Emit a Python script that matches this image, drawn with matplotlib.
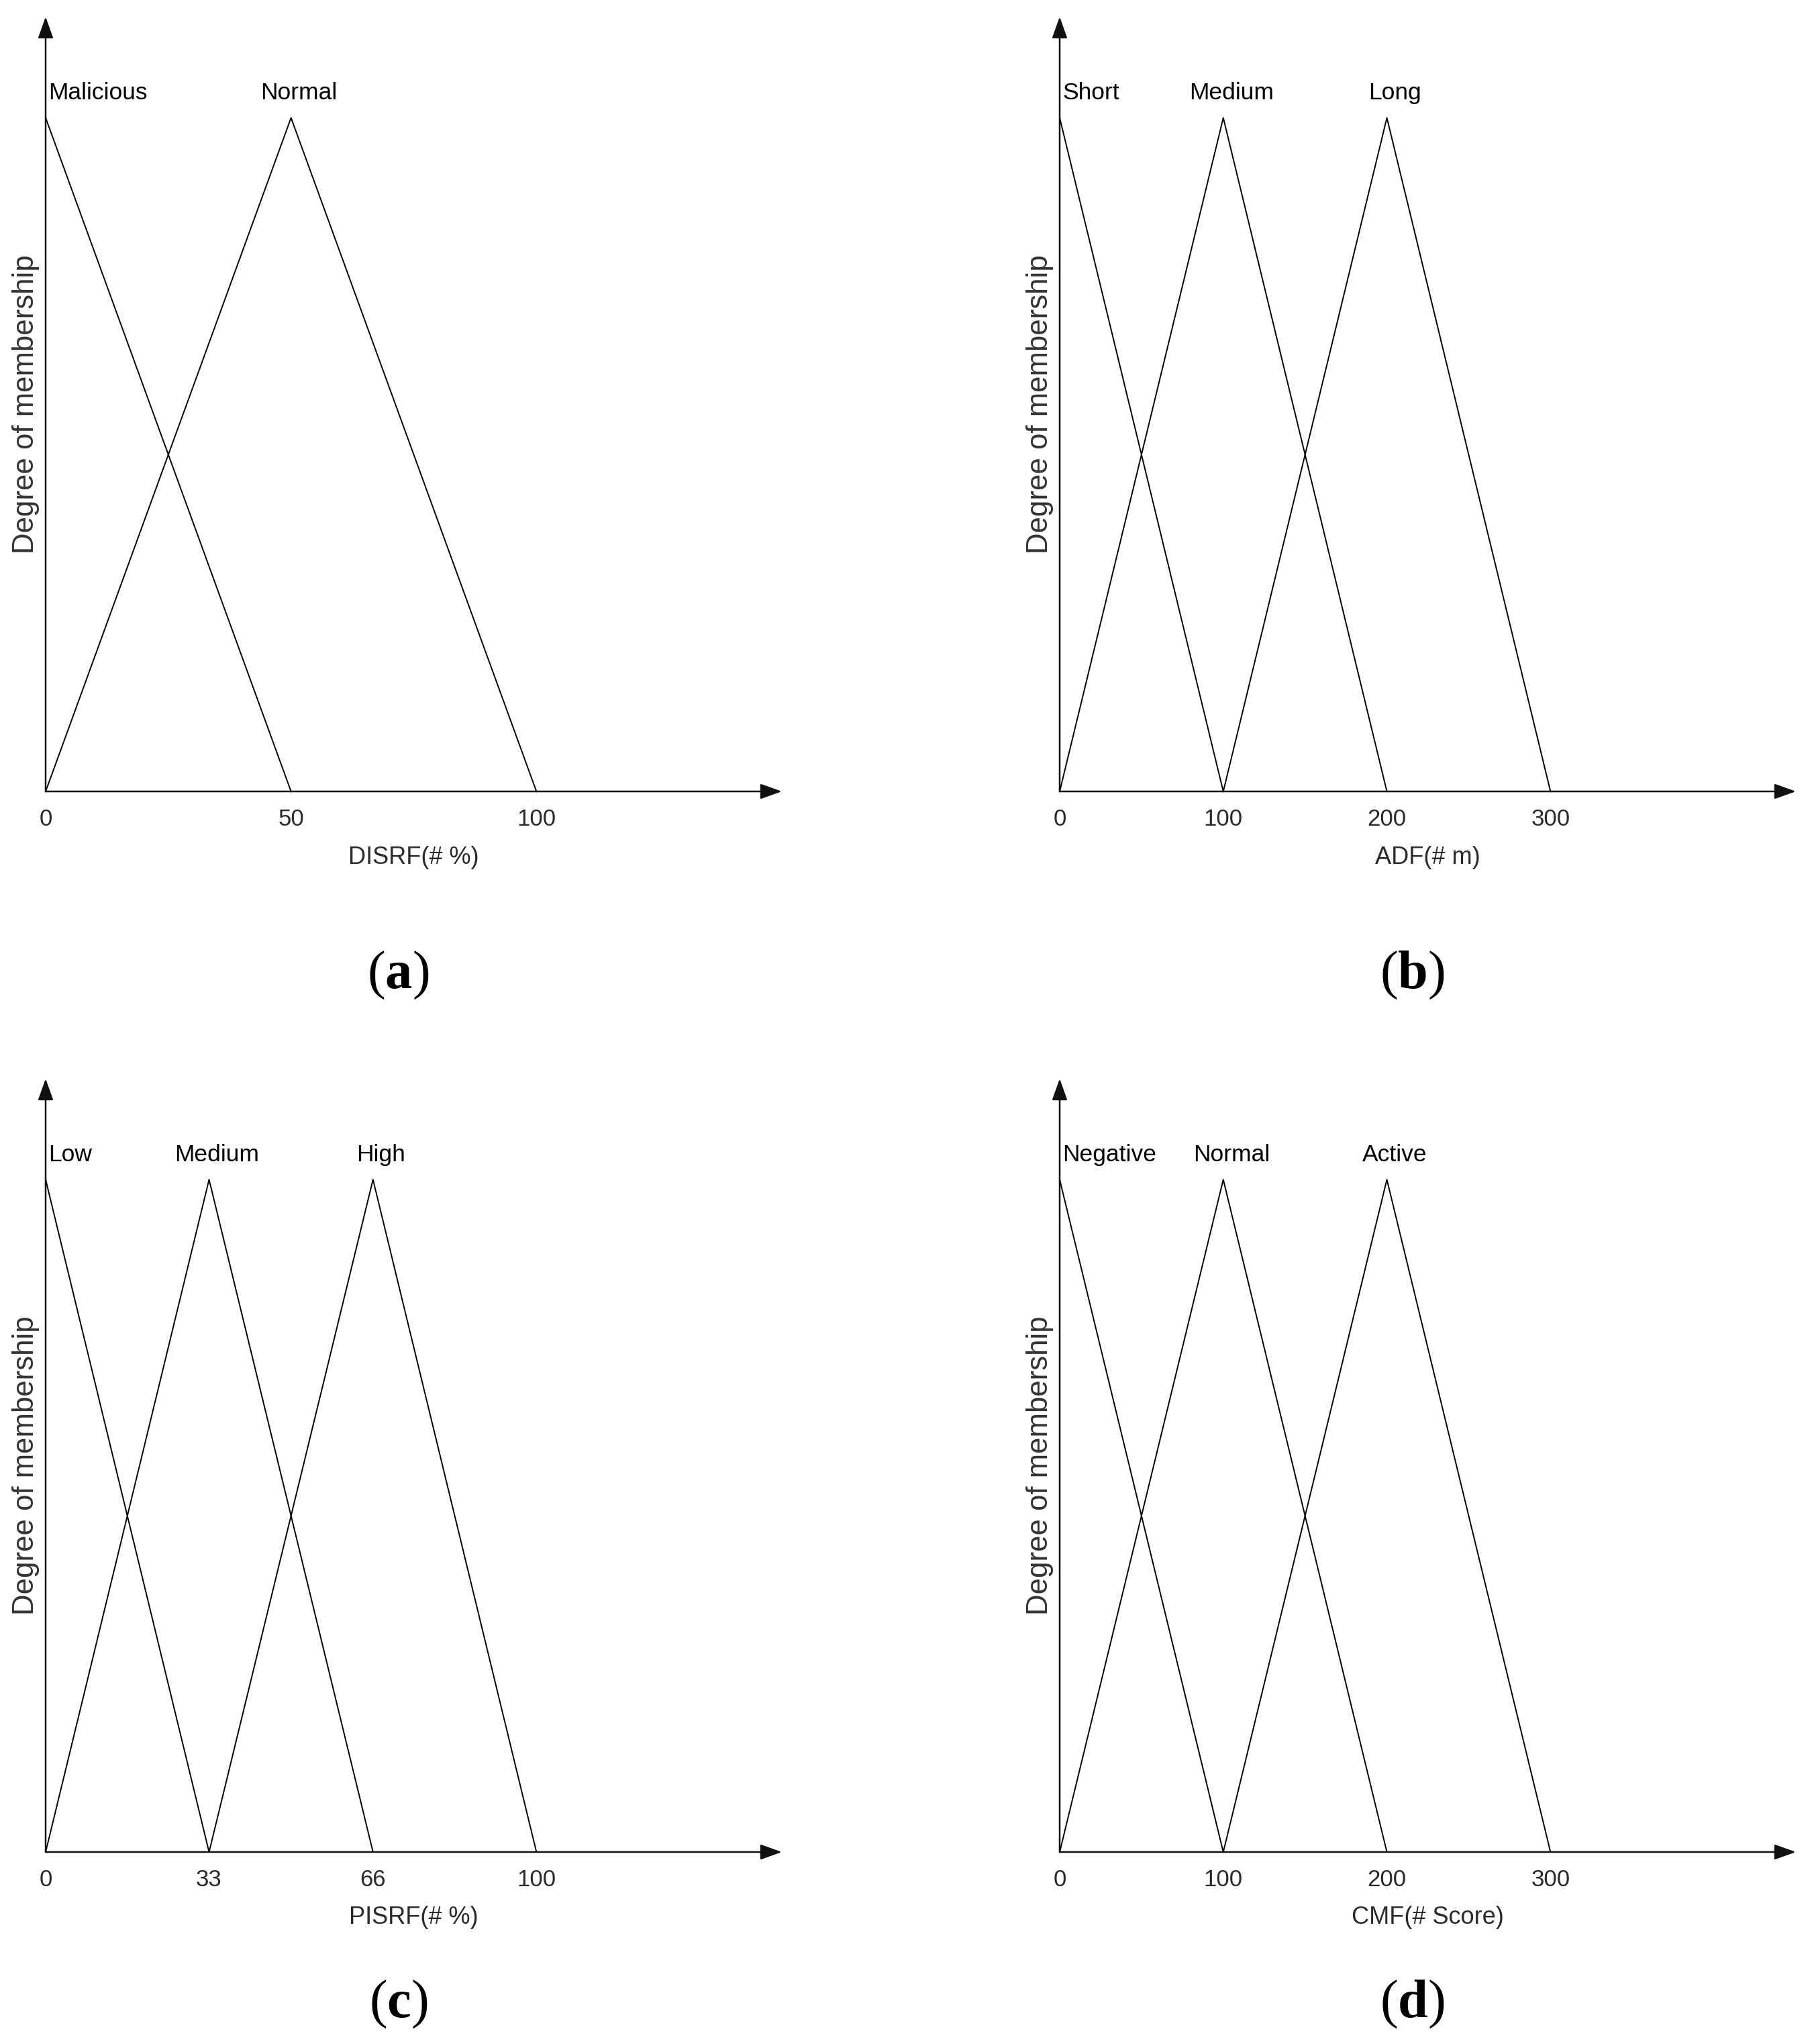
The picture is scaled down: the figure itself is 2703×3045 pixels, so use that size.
"""Fuzzy membership functions for the four input variables, 2x2 panels."""

import matplotlib.pyplot as plt

# ---- data: triangular membership functions (a, b, c) -> feet at a/c, peak at b
disrf_terms = ["Malicious", "Normal"]
disrf_mf = [(0, 0, 50), (0, 50, 100)]
disrf_ticks = [0, 50, 100]
disrf_ticklabels = ["0", "50", "100"]

adf_terms = ["Short", "Medium", "Long"]
adf_mf = [(0, 0, 100), (0, 100, 200), (100, 200, 300)]
adf_ticks = [0, 100, 200, 300]
adf_ticklabels = ["0", "100", "200", "300"]

pisrf_terms = ["Low", "Medium", "High"]
pisrf_mf = [(0, 0, 33.3), (0, 33.3, 66.7), (33.3, 66.7, 100)]
pisrf_ticks = [0, 33.3, 66.7, 100]
pisrf_ticklabels = ["0", "33", "66", "100"]

cmf_terms = ["Negative", "Normal", "Active"]
cmf_mf = [(0, 0, 100), (0, 100, 200), (100, 200, 300)]
cmf_ticks = [0, 100, 200, 300]
cmf_ticklabels = ["0", "100", "200", "300"]

W, H = 2703, 3045
SANS = ["Liberation Sans", "DejaVu Sans"]

plt.rcParams["mathtext.fontset"] = "custom"
plt.rcParams["mathtext.rm"] = "Liberation Serif"
plt.rcParams["mathtext.bf"] = "Liberation Serif:bold"


def px_axes(fig, left, base, right, top):
    # axes from pixel box (y measured from top of image)
    return fig.add_axes([left / W, (H - base) / H, (right - left) / W, (base - top) / H])


def draw_panel(ax, terms, mf, ticks, ticklabels, xmax, xlabel, tag, tag_y):
    ax.set_xlim(0, xmax)
    ax.set_ylim(0, 1.15)
    for s in ax.spines.values():
        s.set_visible(False)

    for i, (term, (a, b, c)) in enumerate(zip(terms, mf)):
        ax.plot([a, b, c], [0, 1, 0], color="black", lw=1.4, clip_on=False, zorder=2)
        if i == 0:
            ax.text(b + xmax * 0.004, 1.037, term, ha="left", va="center",
                    fontsize=25.5, family=SANS, color="black")
        else:
            ax.text(b + xmax * 0.011, 1.037, term, ha="center", va="center",
                    fontsize=25.5, family=SANS, color="black")

    # axis arrows
    arrow = dict(arrowstyle="-|>,head_length=0.7,head_width=0.25", color="#111111",
                 lw=1.8, shrinkA=0, shrinkB=0, mutation_scale=28)
    ax.annotate("", xy=(1, 0), xycoords="axes fraction", xytext=(0, 0),
                textcoords="axes fraction", arrowprops=arrow, zorder=3)
    ax.annotate("", xy=(0, 1), xycoords="axes fraction", xytext=(0, 0),
                textcoords="axes fraction", arrowprops=arrow, zorder=3)

    ax.set_xticks(ticks, ticklabels)
    ax.set_yticks([])
    ax.tick_params(axis="x", length=0, pad=18, labelsize=25, labelcolor="#2a2a2a")
    for lab in ax.get_xticklabels():
        lab.set_family(SANS)

    ax.set_xlabel(xlabel, fontsize=26, family=SANS, color="#2a2a2a")
    ax.xaxis.set_label_coords(0.5, -0.085)
    ax.xaxis.label.set_va("center")

    ax.set_ylabel("Degree of membership", fontsize=31.5, family=SANS, color="#333333")
    ax.yaxis.set_label_coords(-0.027, 0.5)
    ax.yaxis.label.set_va("center")

    ax.text(0.479, tag_y, "($\\mathbf{%s}$)" % tag, transform=ax.transAxes,
            ha="center", va="center", fontsize=58, family="Liberation Serif")


fig = plt.figure(figsize=(W / 100, H / 100), dpi=100)

ax_a = px_axes(fig, 68, 1179, 1165, 25)
ax_b = px_axes(fig, 1579, 1179, 2676, 25)
ax_c = px_axes(fig, 68, 2759, 1165, 1607)
ax_d = px_axes(fig, 1579, 2759, 2676, 1607)

draw_panel(ax_a, disrf_terms, disrf_mf, disrf_ticks, disrf_ticklabels, 150, "DISRF(# %)", "a", -0.237)
draw_panel(ax_b, adf_terms, adf_mf, adf_ticks, adf_ticklabels, 450, "ADF(# m)", "b", -0.237)
draw_panel(ax_c, pisrf_terms, pisrf_mf, pisrf_ticks, pisrf_ticklabels, 150, "PISRF(# %)", "c", -0.197)
draw_panel(ax_d, cmf_terms, cmf_mf, cmf_ticks, cmf_ticklabels, 450, "CMF(# Score)", "d", -0.197)

fig.savefig("out.png", dpi=100, facecolor="white")
